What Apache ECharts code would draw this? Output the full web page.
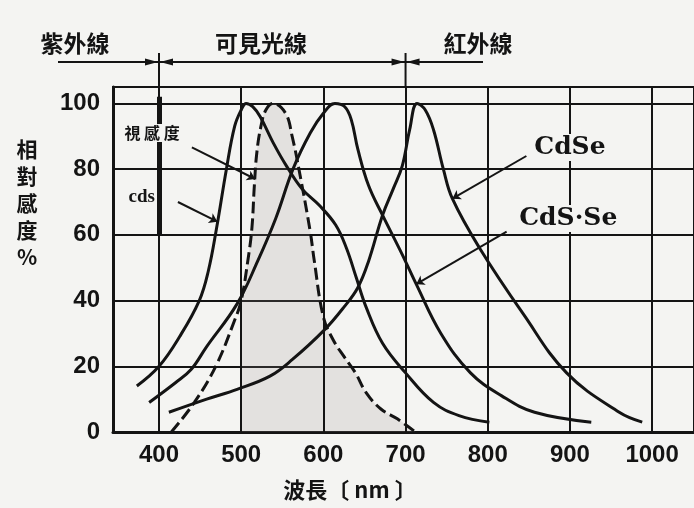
<!DOCTYPE html>
<html>
<head>
<meta charset="utf-8">
<script src="https://cdn.jsdelivr.net/npm/echarts@6/dist/echarts.min.js"></script>
<style>
html, body { margin: 0; padding: 0; background: #f4f4f2; }
#graph { width: 694px; height: 508px; }
</style>
</head>
<body>
<div id="graph"></div>
<script>
// wavelength ticks (nm)
const xTicks = [400, 500, 600, 700, 800, 900, 1000];

// CdS
const cdsNm  = [373, 400, 425, 449, 460, 470, 482, 492, 500, 506, 514, 523, 539, 555, 574, 595, 615, 628, 640, 652, 672, 700, 734, 765, 802];
const cdsVal = [14, 20, 29, 40, 49, 62, 80, 93, 98, 100, 99, 96, 88, 81, 74, 69, 63, 56, 47, 38, 27, 18, 9, 5, 3];

// CdS·Se
const cdsseNm  = [388, 420, 439, 458, 495, 520, 542, 563, 584, 600, 614, 626, 634, 642, 655, 672, 696, 713, 743, 779, 817, 857, 926];
const cdsseVal = [9, 15, 19, 26, 39, 52, 65, 80, 91, 97, 100, 99, 95, 86, 75, 66, 54, 45, 30, 18, 11, 6, 3];

// CdSe
const cdseNm  = [412, 458, 495, 535, 562, 601, 625, 642, 655, 672, 685, 696, 705, 714, 724, 734, 746, 757, 790, 843, 896, 960, 988];
const cdseVal = [6, 10, 13, 17, 22, 31, 38, 44, 52, 66, 74, 81, 92, 100, 98, 92, 80, 71, 56, 36, 18, 6, 3];

// 視感度 (eye sensitivity)
const eyeNm  = [415, 443, 469, 492, 500, 508, 513, 516, 519, 524, 530, 539, 554, 562, 571, 584, 589, 600, 612, 625, 639, 652, 670, 690, 712];
const eyeVal = [0, 9, 20, 34, 40, 52, 62, 75, 85, 93, 98, 100, 97, 90, 79, 61, 52, 35, 28, 23, 18, 12, 7, 4, 0];

const zip = (xs, ys) => xs.map((x, i) => [x, ys[i]]);
const ink = '#141414';
const bg = '#f4f4f2';
const cjk = '"Noto Sans CJK TC", "Noto Sans CJK JP", sans-serif';

const eyeData = zip(eyeNm, eyeVal);
const shadeData = eyeData.filter(p => p[0] >= 500);

function curve(name, data, dashed) {
  return {
    name: name,
    type: 'line',
    data: data,
    smooth: 0.4,
    symbol: 'none',
    z: 5,
    lineStyle: {color: ink, width: 3, type: dashed ? [12, 5] : 'solid'}
  };
}

const pointer = (from, to) => [{coord: from}, {coord: to}];

const chart = echarts.init(document.getElementById('graph'));
chart.setOption({
  backgroundColor: bg,
  animation: false,
  grid: {left: 113, right: -3, top: 87, bottom: 76, show: true, borderColor: ink, borderWidth: 2},
  xAxis: {
    type: 'value', min: 344, max: 1051,
    axisLine: {show: true, lineStyle: {color: ink, width: 3}},
    axisTick: {show: false},
    splitLine: {show: false},
    axisLabel: {
      customValues: xTicks, formatter: v => String(v), color: ink, fontSize: 24, fontWeight: 'bold',
      fontFamily: 'Liberation Sans', margin: 11
    }
  },
  yAxis: {
    type: 'value', min: 0, max: 105, interval: 20,
    axisLine: {show: true, lineStyle: {color: ink, width: 3}},
    axisTick: {show: false},
    splitLine: {lineStyle: {color: ink, width: 2}},
    axisLabel: {
      formatter: v => (v % 20 === 0 ? String(v) : ''),
      color: ink, fontSize: 24, fontWeight: 'bold', fontFamily: 'Liberation Sans', margin: 13
    }
  },
  series: [
    {
      name: 'shade', type: 'line', data: shadeData, smooth: 0.4, symbol: 'none', z: 1,
      lineStyle: {width: 0}, areaStyle: {color: 'rgba(150,140,138,0.26)'}
    },
    curve('視感度', eyeData, true),
    curve('CdS', zip(cdsNm, cdsVal), false),
    curve('CdS·Se', zip(cdsseNm, cdsseVal), false),
    curve('CdSe', zip(cdseNm, cdseVal), false),
    {
      name: 'guide', type: 'line', data: [], z: 3,
      markLine: {
        silent: true, symbol: 'none', label: {show: false},
        lineStyle: {color: ink, width: 2, type: 'solid'},
        data: xTicks.map(x => ({xAxis: x}))
      }
    },
    {
      name: 'pointers', type: 'line', data: [], z: 6,
      markLine: {
        silent: true, symbol: ['none', 'arrow'], symbolSize: 8, label: {show: false},
        lineStyle: {color: ink, width: 2, type: 'solid'},
        data: [
          pointer([440, 86.6], [517, 77]),
          pointer([423, 70], [471, 64]),
          pointer([847, 84], [757, 71]),
          pointer([823, 61], [713, 45])
        ]
      }
    },
    {
      name: 'uvline', type: 'line', data: [], z: 4,
      markLine: {
        silent: true, symbol: 'none', label: {show: false},
        lineStyle: {color: ink, width: 5, type: 'solid'},
        data: [pointer([400, 102], [400, 60])]
      }
    }
  ]
});

// annotations placed from axis positions
const toPx = (x, y) => chart.convertToPixel({gridIndex: 0}, [x, y]);
const bandEdges = [400, 700];
const topY = toPx(400, 105)[1];
const arrowY = 62;
const g = [];
g.push({type: 'line', z: 100, shape: {x1: 58, y1: arrowY, x2: 483, y2: arrowY}, style: {stroke: ink, lineWidth: 2}});
bandEdges.forEach(v => {
  const x = toPx(v, 0)[0];
  g.push({type: 'line', z: 100, shape: {x1: x, y1: 53, x2: x, y2: topY}, style: {stroke: ink, lineWidth: 2}});
  g.push({type: 'polygon', z: 100, shape: {points: [[x - 1, arrowY], [x - 14, arrowY - 3.5], [x - 14, arrowY + 3.5]]}, style: {fill: ink}});
  g.push({type: 'polygon', z: 100, shape: {points: [[x + 1, arrowY], [x + 14, arrowY - 3.5], [x + 14, arrowY + 3.5]]}, style: {fill: ink}});
});

function label(text, x, y, font, extra) {
  g.push({
    type: 'text', z: 101, x: x, y: y,
    style: Object.assign({text: text, font: font, fill: ink, align: 'center', verticalAlign: 'middle'}, extra || {})
  });
}
label('紫外線', 75, 43, 'bold 23px ' + cjk);
label('可見光線', 261, 43, 'bold 23px ' + cjk);
label('紅外線', 478, 43, 'bold 23px ' + cjk);
label('相\n對\n感\n度\n%', 27, 203, 'bold 21px ' + cjk, {lineHeight: 27});
label('波長〔 nm 〕', 350, 490, 'bold 22px ' + cjk);

const tagBox = {backgroundColor: bg, padding: [1, 2]};
let p = toPx(391.5, 91);
label('視 感 度', p[0], p[1], 'bold 16px ' + cjk, tagBox);
p = toPx(379, 71.4);
label('cds', p[0], p[1], 'bold 19px "Liberation Serif"', tagBox);
p = toPx(900, 86.6);
label('CdSe', p[0], p[1], 'bold 25px "DejaVu Serif"', tagBox);
p = toPx(898, 65);
label('CdS·Se', p[0], p[1], 'bold 25px "DejaVu Serif"', tagBox);

chart.setOption({graphic: g});
</script>
</body>
</html>
